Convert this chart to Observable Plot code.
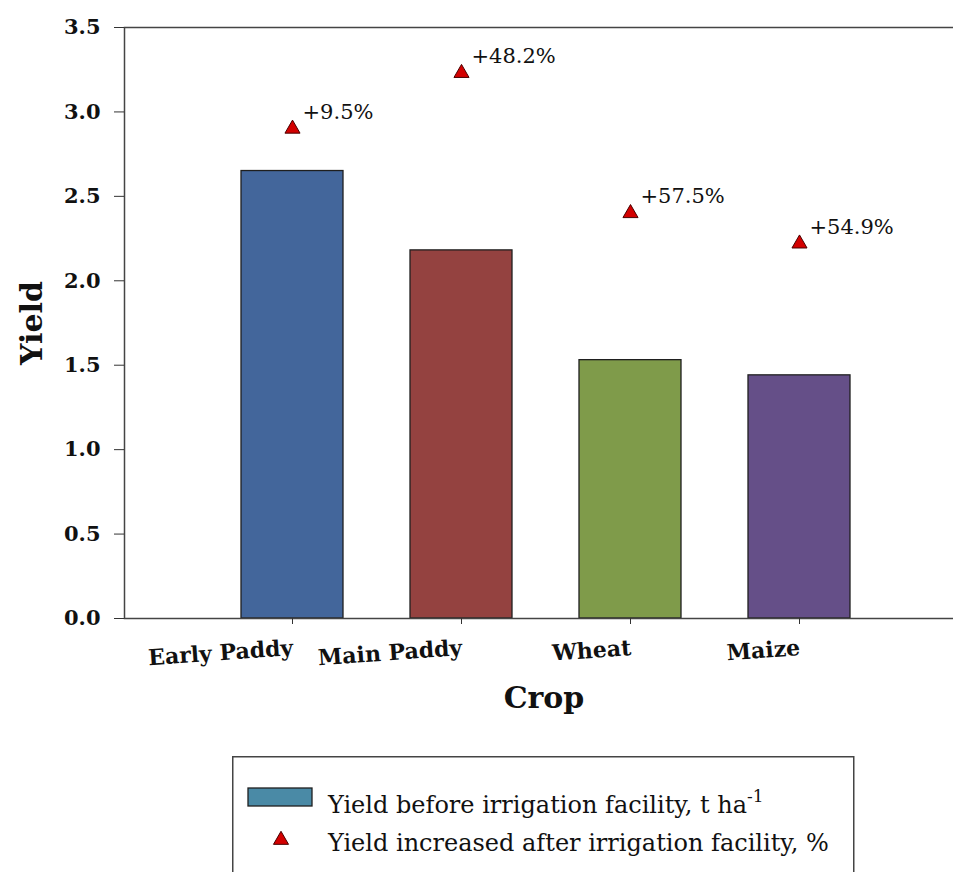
<!DOCTYPE html>
<html>
<head>
<meta charset="utf-8">
<script src="https://cdn.jsdelivr.net/npm/d3@7"></script>
<script src="https://cdn.jsdelivr.net/npm/@observablehq/plot@0.6"></script>
<style>
  html, body { margin: 0; padding: 0; background: #fff; }
  body { width: 953px; height: 872px; overflow: hidden; font-family: "DejaVu Serif", serif; }
  #legend { position: absolute; left: 232px; top: 756px; }
</style>
</head>
<body>
<div id="chart"></div>
<div id="legend"></div>
<script>
// ---- data ----
const crops = ["Early Paddy", "Main Paddy", "Wheat", "Maize"];
const yieldBefore = [2.65, 2.18, 1.53, 1.44];          // bars, t ha-1
const markerValues = [2.90, 3.23, 2.40, 2.22];          // triangle positions
const increaseLabels = ["+9.5%", "+48.2%", "+57.5%", "+54.9%"];
const barColors = ["#43669b", "#944240", "#7f9b4a", "#654f88"];
const yTicks = [0, 0.5, 1.0, 1.5, 2.0, 2.5, 3.0, 3.5];
const legendLabels = ["Yield before irrigation facility, t ha", "Yield increased after irrigation facility, %"];

const rows = crops.map((c, i) => ({
  crop: c, before: yieldBefore[i], marker: markerValues[i], label: increaseLabels[i], color: barColors[i]
}));

const FONT = "DejaVu Serif";

const chart = Plot.plot({
  width: 953,
  height: 730,
  marginLeft: 124,
  marginRight: 0,
  marginTop: 27,
  marginBottom: 112,
  style: { fontFamily: FONT, color: "#111", background: "white", overflow: "visible" },
  x: { type: "band", domain: crops, paddingInner: 0.396, paddingOuter: 0.65, align: 0.532, label: null },
  y: { domain: [0, 3.5], label: null },
  marks: [
    Plot.barY(rows, { x: "crop", y: "before", fill: "color", stroke: "#1f1f1f", strokeWidth: 1.3 }),
    Plot.frame({ stroke: "#444", strokeWidth: 1.5, insetRight: -10 }),
    Plot.axisY({ ticks: yTicks, tickFormat: d3.format(".1f"), tickSize: 10, tickPadding: 14,
                 fontSize: 21, fontWeight: "bold", fontFamily: FONT, stroke: "#333", label: null }),
    Plot.axisX({ tickSize: 6, tickPadding: 15, tickRotate: -4, textAnchor: "end",
                 fontSize: 22, fontWeight: "bold", fontFamily: FONT, stroke: "#333", label: null }),
    Plot.dot(rows, { x: "crop", y: "marker", symbol: "triangle", r: 5.6, fill: "#d30000", stroke: "#4a0000", strokeWidth: 1 }),
    Plot.text(rows, { x: "crop", y: "marker", text: "label", dx: 10, dy: -10, textAnchor: "start", lineAnchor: "bottom",
                      fontSize: 21, fontFamily: FONT, fill: "#111" }),
    Plot.text(["Yield"], { frameAnchor: "left", rotate: -90, dx: -92, textAnchor: "middle", lineAnchor: "middle",
                           fontSize: 30, fontWeight: "bold", fontFamily: FONT, fill: "#111" }),
    Plot.text(["Crop"], { frameAnchor: "bottom", dx: 5, dy: 89, textAnchor: "middle", lineAnchor: "bottom",
                          fontSize: 30, fontWeight: "bold", fontFamily: FONT, fill: "#111" })
  ]
});
document.getElementById("chart").appendChild(chart);

// ---- legend ----
const lg = d3.select("#legend").append("svg")
  .attr("width", 623).attr("height", 130)
  .style("display", "block").style("overflow", "visible");
lg.append("rect").attr("x", 0.75).attr("y", 0.75).attr("width", 621).attr("height", 140)
  .attr("fill", "white").attr("stroke", "#444").attr("stroke-width", 1.5);
lg.append("rect").attr("x", 16).attr("y", 32).attr("width", 64).attr("height", 18)
  .attr("fill", "#4a8aa6").attr("stroke", "#1f1f1f").attr("stroke-width", 1.3);
lg.append("path").attr("transform", "translate(49,84)")
  .attr("d", d3.symbol(d3.symbolTriangle, 5.6 * 5.6 * Math.PI)())
  .attr("fill", "#d30000").attr("stroke", "#4a0000").attr("stroke-width", 1);
const t1 = lg.append("text").attr("x", 96).attr("y", 57)
  .attr("font-family", FONT).attr("font-size", 24).attr("fill", "#111");
t1.append("tspan").text(legendLabels[0]);
t1.append("tspan").attr("dy", -11).attr("font-size", 17).text("-1");
lg.append("text").attr("x", 96).attr("y", 95)
  .attr("font-family", FONT).attr("font-size", 24).attr("fill", "#111")
  .text(legendLabels[1]);
</script>
</body>
</html>
